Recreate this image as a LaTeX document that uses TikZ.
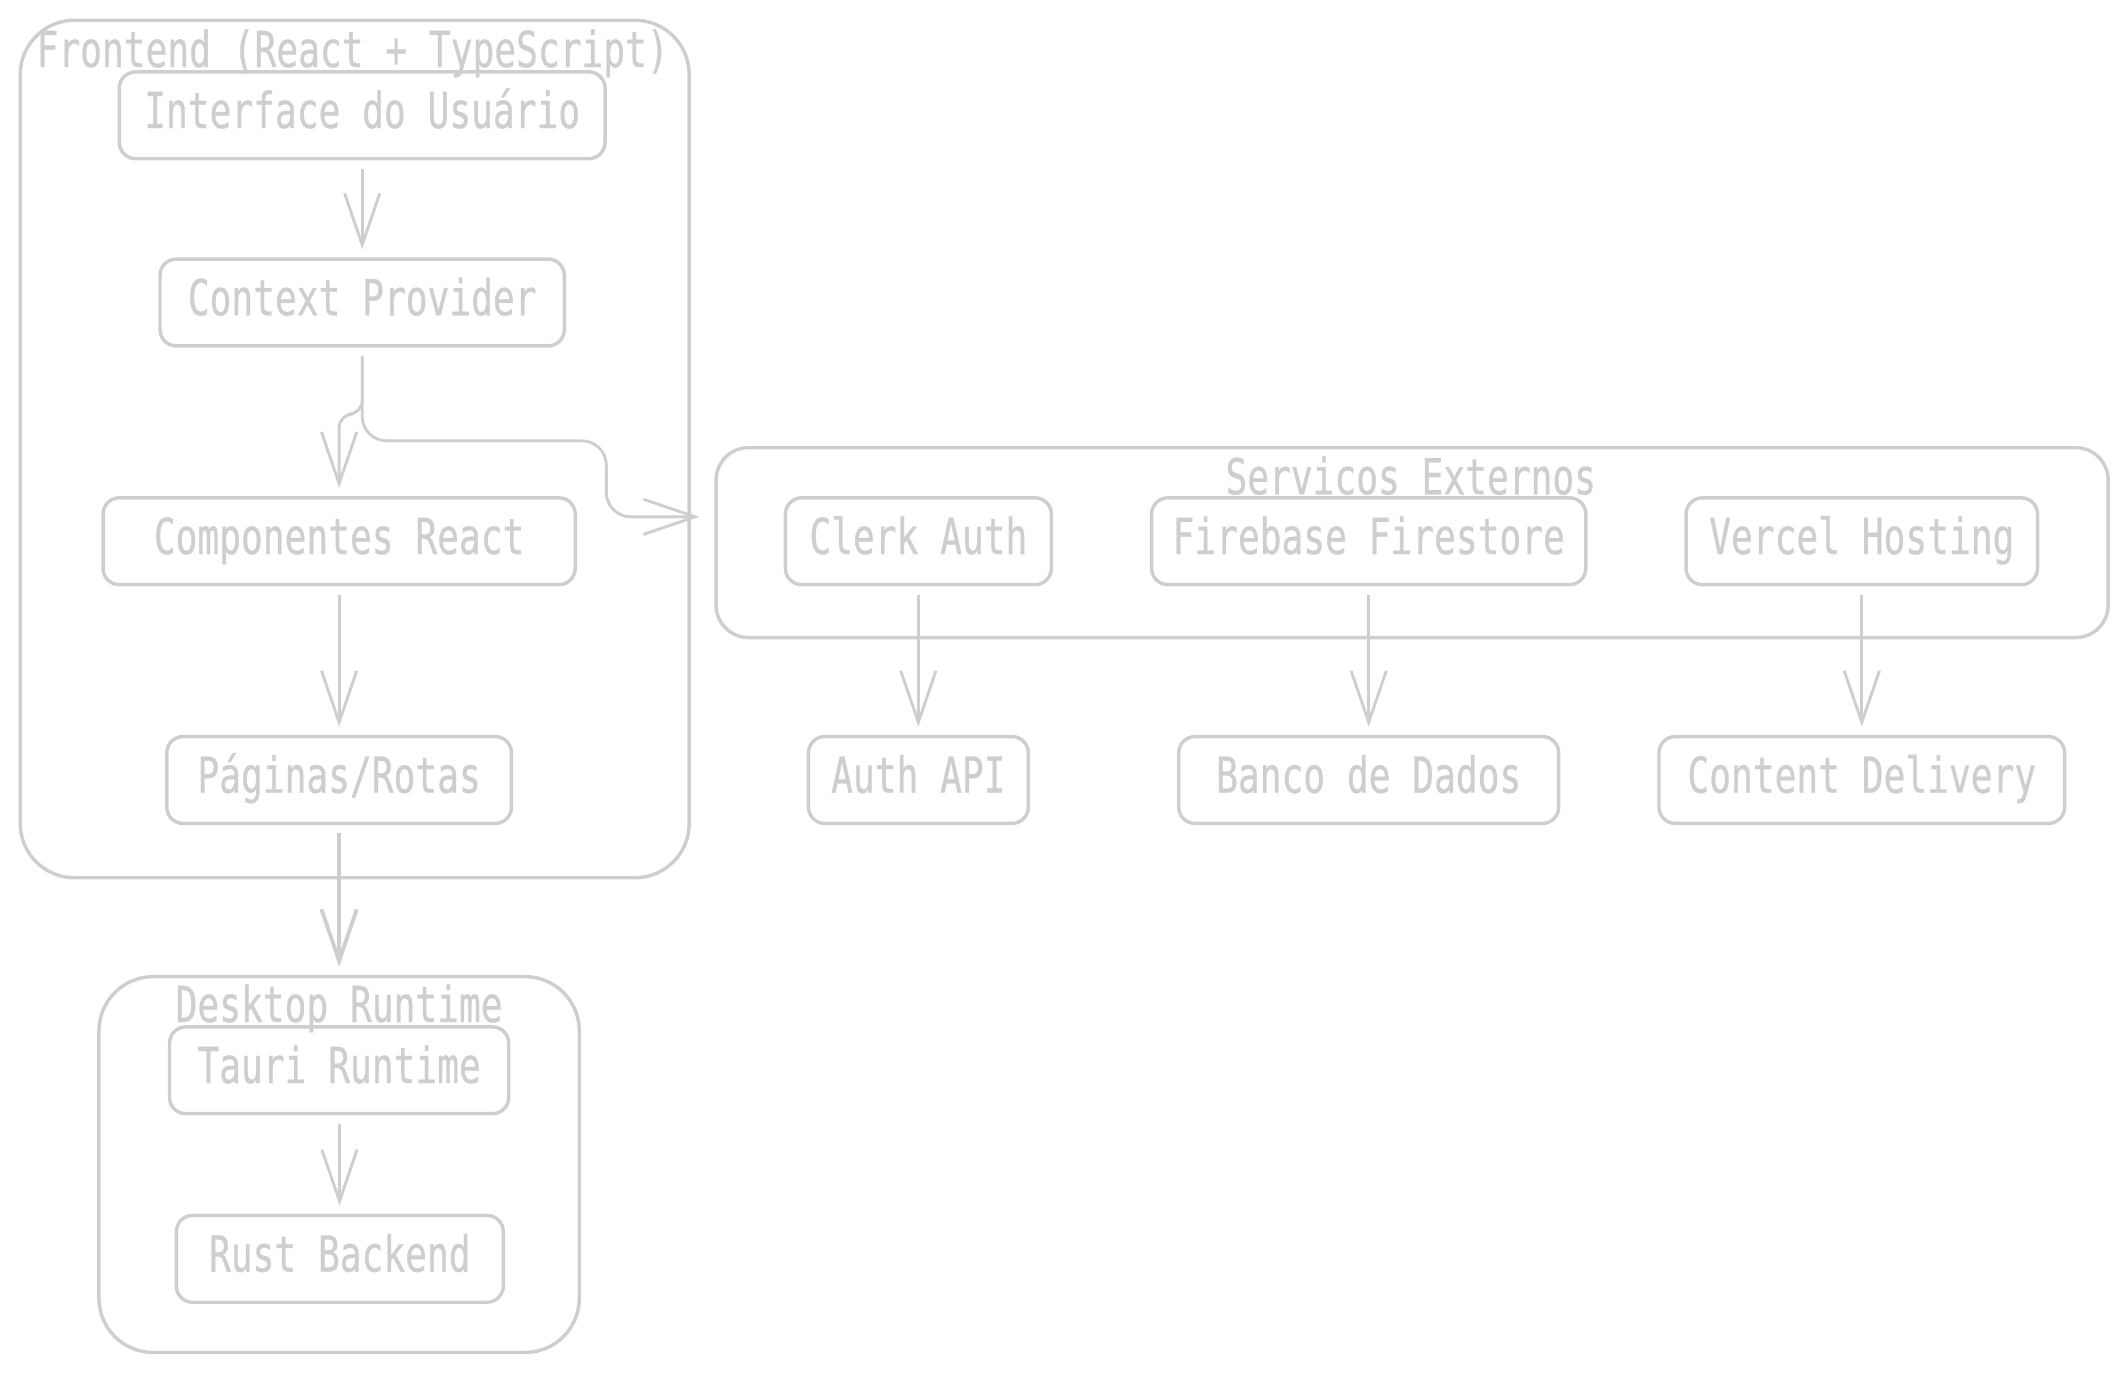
\documentclass[tikz,border=0pt]{standalone}
\usepackage{fontspec}
\usetikzlibrary{arrows.meta}
\newfontfamily\sketchfont[FakeStretch=0.73, FakeBold=0.6]{DejaVu Sans Mono}
\definecolor{sketchgray}{RGB}{206,206,206}

\begin{document}
\begin{tikzpicture}[x=0.025cm, y=-0.025cm,
    box/.style={draw=sketchgray, line width=1.8pt, rounded corners=0.3cm, minimum height=1.6cm,
        text=sketchgray, font=\sketchfont\fontsize{26}{30}\selectfont, inner sep=0pt,
        text height=0.67cm, text depth=0.2cm},
    group/.style={draw=sketchgray, line width=1.8pt, rounded corners=1cm, inner sep=0pt},
    grouptitle/.style={text=sketchgray, font=\sketchfont\fontsize{26}{30}\selectfont, inner sep=0pt,
        text height=0.67cm, text depth=0.2cm},
    arr/.style={draw=sketchgray, line width=1.5pt, -{Straight Barb[length=0.95cm,width=0.65cm]},
        shorten <=0.15cm, shorten >=0.15cm}]
    \useasboundingbox (0,0) rectangle (1568,1012);

    % Groups
    \node[group, minimum width=12.325cm, minimum height=15.8cm] (front) at (261.5,331) {};
    \node[group, minimum width=25.65cm, minimum height=3.5cm, rounded corners=0.6cm] (serv) at (1041,400) {};
    \node[group, minimum width=8.85cm, minimum height=6.925cm] (desk) at (250,858.5) {};

    % Group titles
    \node[grouptitle] (fronttitle) at (260,40) {Frontend (React + TypeScript)};
    \node[grouptitle] (servtitle) at (1040,355) {Servicos Externos};
    \node[grouptitle] (desktitle) at (250,744) {Desktop Runtime};

    % Frontend
    \node[box, minimum width=8.95cm] (ui) at (267,85) {Interface do Usuário};
    \node[box, minimum width=7.45cm] (ctx) at (267,223) {Context Provider};
    \node[box, minimum width=8.7cm] (comp) at (250,399) {Componentes React};
    \node[box, minimum width=6.35cm] (pages) at (250,575) {Páginas/Rotas};

    % External services
    \node[box, minimum width=4.9cm] (clerk) at (677,399) {Clerk Auth};
    \node[box, minimum width=8cm] (fire) at (1009,399) {Firebase Firestore};
    \node[box, minimum width=6.475cm] (vercel) at (1372.5,399) {Vercel Hosting};
    \node[box, minimum width=4.05cm] (authapi) at (677,575) {Auth API};
    \node[box, minimum width=7cm] (banco) at (1009,575) {Banco de Dados};
    \node[box, minimum width=7.475cm] (cdn) at (1372.5,575) {Content Delivery};

    % Desktop
    \node[box, minimum width=6.25cm] (tauri) at (250,789) {Tauri Runtime};
    \node[box, minimum width=6.025cm] (rust) at (250.5,928) {Rust Backend};

    % Arrows
    \draw[arr] (ui) -- (ctx);
    \draw[arr, rounded corners=0.25cm] (ctx.south) -- ++(0,49) -| (comp.north);
    \coordinate (servin) at ([xshift=-0.125cm, yshift=0.475cm]serv.west);
    \draw[arr, rounded corners=0.45cm] (ctx.south) |- (447,325) |- (servin);
    \draw[arr] (comp) -- (pages);
    \draw[arr, line width=2pt] (pages) -- (desk);
    \draw[arr] (clerk) -- (authapi);
    \draw[arr] (fire) -- (banco);
    \draw[arr] (vercel) -- (cdn);
    \draw[arr] (tauri) -- (rust);
\end{tikzpicture}
\end{document}
